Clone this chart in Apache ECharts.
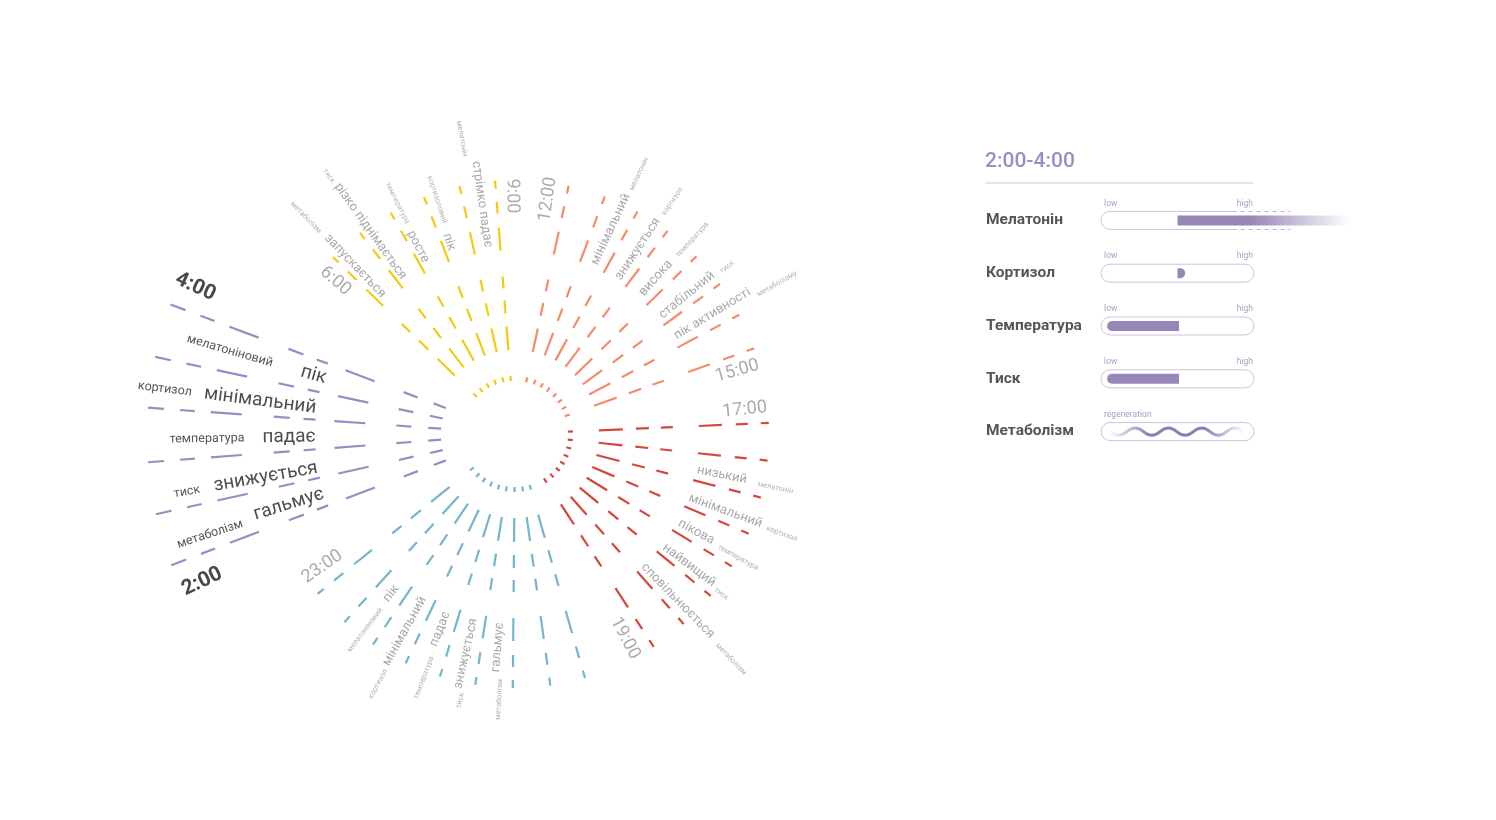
<!DOCTYPE html>
<html>
<head>
<meta charset="UTF-8">
<title>Циркадний ритм</title>
<script src="https://cdn.jsdelivr.net/npm/echarts@6/dist/echarts.min.js"></script>
<style>
  html, body {margin: 0; padding: 0; background: #fff;}
  #main {width: 1496px; height: 820px;}
</style>
</head>
<body>
<div id="main"></div>
<script>
  // кути променів, градуси (0 = праворуч, проти годинникової)
  var morningRays = [94.5, 102.6, 111, 119.3, 127.6, 135.8];
  var nightRays = [159.4, 167.9, 175.9, 184.4, 192.6, 200.9];
  var lateRays = [219, 227.8, 236, 244.5, 252.8, 261, 269.5, 278, 286];
  var eveningRays = [303.1, 311.6, 320.4, 328.6, 336.9, 345.5, 354, 2.5];
  var dayRays = [19.7, 28, 36.2, 44.4, 53.1, 61.2, 69.3, 77.8];

  // відрізки вздовж променя [від, до] по радіусу
  var dayDashes = [[53, 58], [84, 108], [121, 134], [146, 158], [184, 207], [221, 233], [246, 254]];
  var nightDashes = [[74, 87], [104, 119], [150, 181], [200, 212], [226, 242], [274, 305], [321, 336], [352, 368]];

  // підписи: [текст, кут, радіус]
  var nightHours = [['4:00', 155.3, 352], ['2:00', 205.3, 346]];
  var nightParams = [['мелатоніновий', 163.8, 297], ['кортизол', 172.7, 353], ['температура', 180.9, 308], ['тиск', 190, 333], ['метаболізм', 198.2, 321]];
  var nightStates = [['пік', 163.7, 210], ['мінімальний', 172.6, 257], ['падає', 180.8, 226], ['знижується', 189.8, 253], ['гальмує', 197.3, 237]];

  var hours = [['9:00', 90.7, 238], ['6:00', 139.6, 236], ['12:00', 82, 237], ['15:00', 15.8, 231],
    ['17:00', 6, 231], ['19:00', 298.3, 232], ['23:00', 214.6, 234]];

  var params = [
    ['мелатонін', 100.2, 300], ['кортизоловий', 108.4, 247], ['температура', 117, 259], ['тиск', 125.8, 318], ['метаболізм', 134, 301],
    ['мелатонін', 64.5, 288], ['кортизол', 55.9, 281], ['температура', 47.6, 263], ['тиск', 38.2, 270], ['метаболізму', 29.8, 302],
    ['мелатонін', 348.3, 266], ['кортизол', 339.5, 285], ['температура', 331, 255], ['тиск', 322.2, 261], ['метаболізм', 313.8, 312],
    ['мелатоніновий', 232.6, 247], ['кортизол', 241.3, 285], ['температура', 249.5, 260], ['тиск', 258.4, 272], ['метаболізм', 266.6, 266]
  ];
  var states = [
    ['стрімко падає', 98.2, 232], ['пік', 109, 203], ['росте', 117.4, 211], ['різко піднімається', 125.5, 249], ['запускається', 133.6, 232],
    ['мінімальний', 64.9, 226], ['знижується', 56.4, 222], ['висока', 47.9, 210], ['стабільний', 38.9, 221], ['пік активності', 31.3, 231],
    ['низький', 348.8, 211], ['мінімальний', 339.9, 224], ['пікова', 331.6, 206], ['найвищий', 323, 218], ['сповільнюється', 314.3, 233],
    ['пік', 232.2, 202], ['мінімальний', 240.8, 226], ['падає', 249, 209], ['знижується', 257.4, 225], ['гальмує', 265.4, 214]
  ];

  // панель справа
  var panelTitle = '2:00-4:00';
  var panelRows = ['Мелатонін', 'Кортизол', 'Температура', 'Тиск', 'Метаболізм'];
  var panelFrom = [50, 50, 4, 4, 6];
  var panelTo = [163, 55, 51, 51, 93];
  var panelLow = ['low', 'low', 'low', 'low', 'regeneration'];
  var panelHigh = ['high', 'high', 'high', 'high', ''];

  var FONT = 'Roboto';
  var PURPLE = '#9a8bc3';

  function dashData(rays, dashes) {
    var out = [];
    rays.forEach(function (a) {
      dashes.forEach(function (d) {
        out.push([a, d[0], d[1]]);
      });
    });
    return out;
  }

  function dashSeries(rays, dashes, color) {
    return {
      type: 'custom',
      coordinateSystem: 'polar',
      silent: true,
      itemStyle: {color: color},
      encode: {angle: 0, radius: 1},
      data: dashData(rays, dashes),
      renderItem: function (p, api) {
        var a = api.value(0);
        var p0 = api.coord([api.value(1), a]);
        var p1 = api.coord([api.value(2), a]);
        return {
          type: 'line',
          shape: {x1: p0[0], y1: p0[1], x2: p1[0], y2: p1[1]},
          style: {stroke: color, lineWidth: 2.2, lineCap: 'butt'}
        };
      }
    };
  }

  function labelSeries(list, st) {
    return {
      type: 'custom',
      coordinateSystem: 'polar',
      silent: true,
      encode: {angle: 0, radius: 1},
      data: list.map(function (l) { return [l[1], l[2]]; }),
      renderItem: function (p, api) {
        var a = api.value(0);
        var pt = api.coord([api.value(1), a]);
        var rot = (a > 90 && a < 270) ? a - 180 : a;
        return {
          type: 'text',
          x: pt[0], y: pt[1],
          rotation: rot * Math.PI / 180,
          style: {
            text: list[p.dataIndex][0],
            fill: st.color,
            fontSize: st.size,
            fontWeight: st.weight || 'normal',
            fontFamily: FONT,
            align: 'center', verticalAlign: 'middle',
            textAlign: 'center', textVerticalAlign: 'middle'
          }
        };
      }
    };
  }

  function renderPanel(p, api) {
    var i = api.value(2);
    var x0 = api.coord([0, i])[0];
    var x100 = api.coord([100, i])[0];
    var cy = api.coord([0, i])[1];
    var h = 18;
    var top = cy - h / 2, bot = cy + h / 2;
    var xa = api.coord([api.value(0), i])[0];
    var xb = api.coord([api.value(1), i])[0];
    var line = '#cbc3e0';
    var children = [];

    if (i === 0) {
      var xc = api.coord([86, i])[0];
      var xd = api.coord([124, i])[0];
      children.push({
        type: 'path',
        shape: {pathData: 'M' + xc + ' ' + top + ' L' + (x0 + 9) + ' ' + top +
          ' A9 9 0 0 0 ' + (x0 + 9) + ' ' + bot + ' L' + xc + ' ' + bot},
        style: {fill: null, stroke: line, lineWidth: 1}
      });
      children.push({type: 'line', shape: {x1: xc, y1: top, x2: xd, y2: top},
        style: {stroke: '#b8aed2', lineWidth: 1, lineDash: [4, 4]}});
      children.push({type: 'line', shape: {x1: xc, y1: bot, x2: xd, y2: bot},
        style: {stroke: '#b8aed2', lineWidth: 1, lineDash: [4, 4]}});
      children.push({
        type: 'rect',
        shape: {x: xa, y: cy - 5, width: xb - xa, height: 10},
        style: {fill: {type: 'linear', x: 0, y: 0, x2: 1, y2: 0, colorStops: [
          {offset: 0, color: '#9786b6'}, {offset: 0.42, color: '#9786b6'},
          {offset: 1, color: 'rgba(151,134,182,0)'}]}}
      });
    } else {
      children.push({
        type: 'rect',
        shape: {x: x0, y: top, width: x100 - x0, height: h, r: 9},
        style: {fill: '#fff', stroke: line, lineWidth: 1}
      });
      if (i === 4) {
        var w = (xb - xa) / 8, amp = 4.5;
        var d = 'M' + xa + ' ' + cy;
        for (var k = 0; k < 8; k++) {
          var sx = xa + w * k;
          d += ' Q' + (sx + w / 2) + ' ' + (cy + (k % 2 ? -amp : amp) * 1.6) + ' ' + (sx + w) + ' ' + cy;
        }
        children.push({
          type: 'path',
          shape: {pathData: d},
          style: {fill: null, lineWidth: 3, stroke: {type: 'linear', x: 0, y: 0, x2: 1, y2: 0, colorStops: [
            {offset: 0, color: 'rgba(142,126,182,0)'}, {offset: 0.3, color: '#8d7db5'},
            {offset: 0.7, color: '#8d7db5'}, {offset: 1, color: 'rgba(142,126,182,0)'}]}}
        });
      } else if (i === 1) {
        children.push({type: 'rect', shape: {x: xa, y: cy - 5, width: xb - xa, height: 10, r: [0, 5, 5, 0]},
          style: {fill: '#9786b6'}});
      } else {
        children.push({type: 'rect', shape: {x: xa, y: cy - 5, width: xb - xa, height: 10, r: [5, 0, 0, 5]},
          style: {fill: '#9786b6'}});
      }
    }
    var lx = api.coord([2, i])[0];
    children.push({type: 'text', x: lx, y: top - 8, style: {text: panelLow[i], fill: '#a9a0c6',
      fontSize: 8.5, fontFamily: FONT, align: 'left', verticalAlign: 'middle', textAlign: 'left', textVerticalAlign: 'middle'}});
    children.push({type: 'text', x: x100 - 1, y: top - 8, style: {text: panelHigh[i], fill: '#a9a0c6',
      fontSize: 8.5, fontFamily: FONT, align: 'right', verticalAlign: 'middle', textAlign: 'right', textVerticalAlign: 'middle'}});
    return {type: 'group', children: children};
  }

  var hidden = {show: false};
  var myChart = echarts.init(document.getElementById('main'));

  var option = {
    backgroundColor: '#fff',
    animation: false,
    title: {
      text: panelTitle,
      left: 985, top: 151, padding: 0,
      textStyle: {color: '#9a8dc2', fontSize: 21, fontWeight: 500, fontFamily: FONT}
    },
    graphic: [{
      type: 'line', shape: {x1: 985, y1: 183, x2: 1253, y2: 183},
      style: {stroke: '#cdc7db', lineWidth: 1}
    }],
    polar: {center: [515, 434], radius: 400},
    angleAxis: {type: 'value', min: 0, max: 360, startAngle: 0, clockwise: false,
      axisLine: hidden, axisTick: hidden, axisLabel: hidden, splitLine: hidden},
    radiusAxis: {type: 'value', min: 0, max: 400,
      axisLine: hidden, axisTick: hidden, axisLabel: hidden, splitLine: hidden},
    grid: {left: 1101, width: 153, top: 194, height: 264},
    xAxis: {type: 'value', min: 0, max: 100, show: false},
    yAxis: {
      type: 'category', data: panelRows, inverse: true,
      axisLine: hidden, axisTick: hidden, splitLine: hidden,
      axisLabel: {margin: 115, align: 'left', color: '#565656', fontSize: 15.5, fontWeight: 'bold', fontFamily: FONT}
    },
    series: [
      dashSeries(morningRays, dayDashes, '#f2cb12'),
      dashSeries(nightRays, nightDashes, PURPLE),
      dashSeries(lateRays, dayDashes, '#74b5cd'),
      dashSeries(eveningRays, dayDashes, '#d5463d'),
      dashSeries(dayRays, dayDashes, '#f68b6c'),
      labelSeries(nightHours, {color: '#484848', size: 21, weight: 'bold'}),
      labelSeries(nightStates, {color: '#4e4e4e', size: 19}),
      labelSeries(nightParams, {color: '#555', size: 12.5}),
      labelSeries(hours, {color: '#ababab', size: 18}),
      labelSeries(states, {color: '#a9a9a9', size: 13}),
      labelSeries(params, {color: '#b3b3b3', size: 7.5}),
      {
        type: 'custom',
        coordinateSystem: 'cartesian2d',
        silent: true,
        encode: {x: [0, 1], y: 2},
        data: panelRows.map(function (r, i) { return [panelFrom[i], panelTo[i], i]; }),
        renderItem: renderPanel
      }
    ]
  };

  myChart.setOption(option);
</script>
</body>
</html>
